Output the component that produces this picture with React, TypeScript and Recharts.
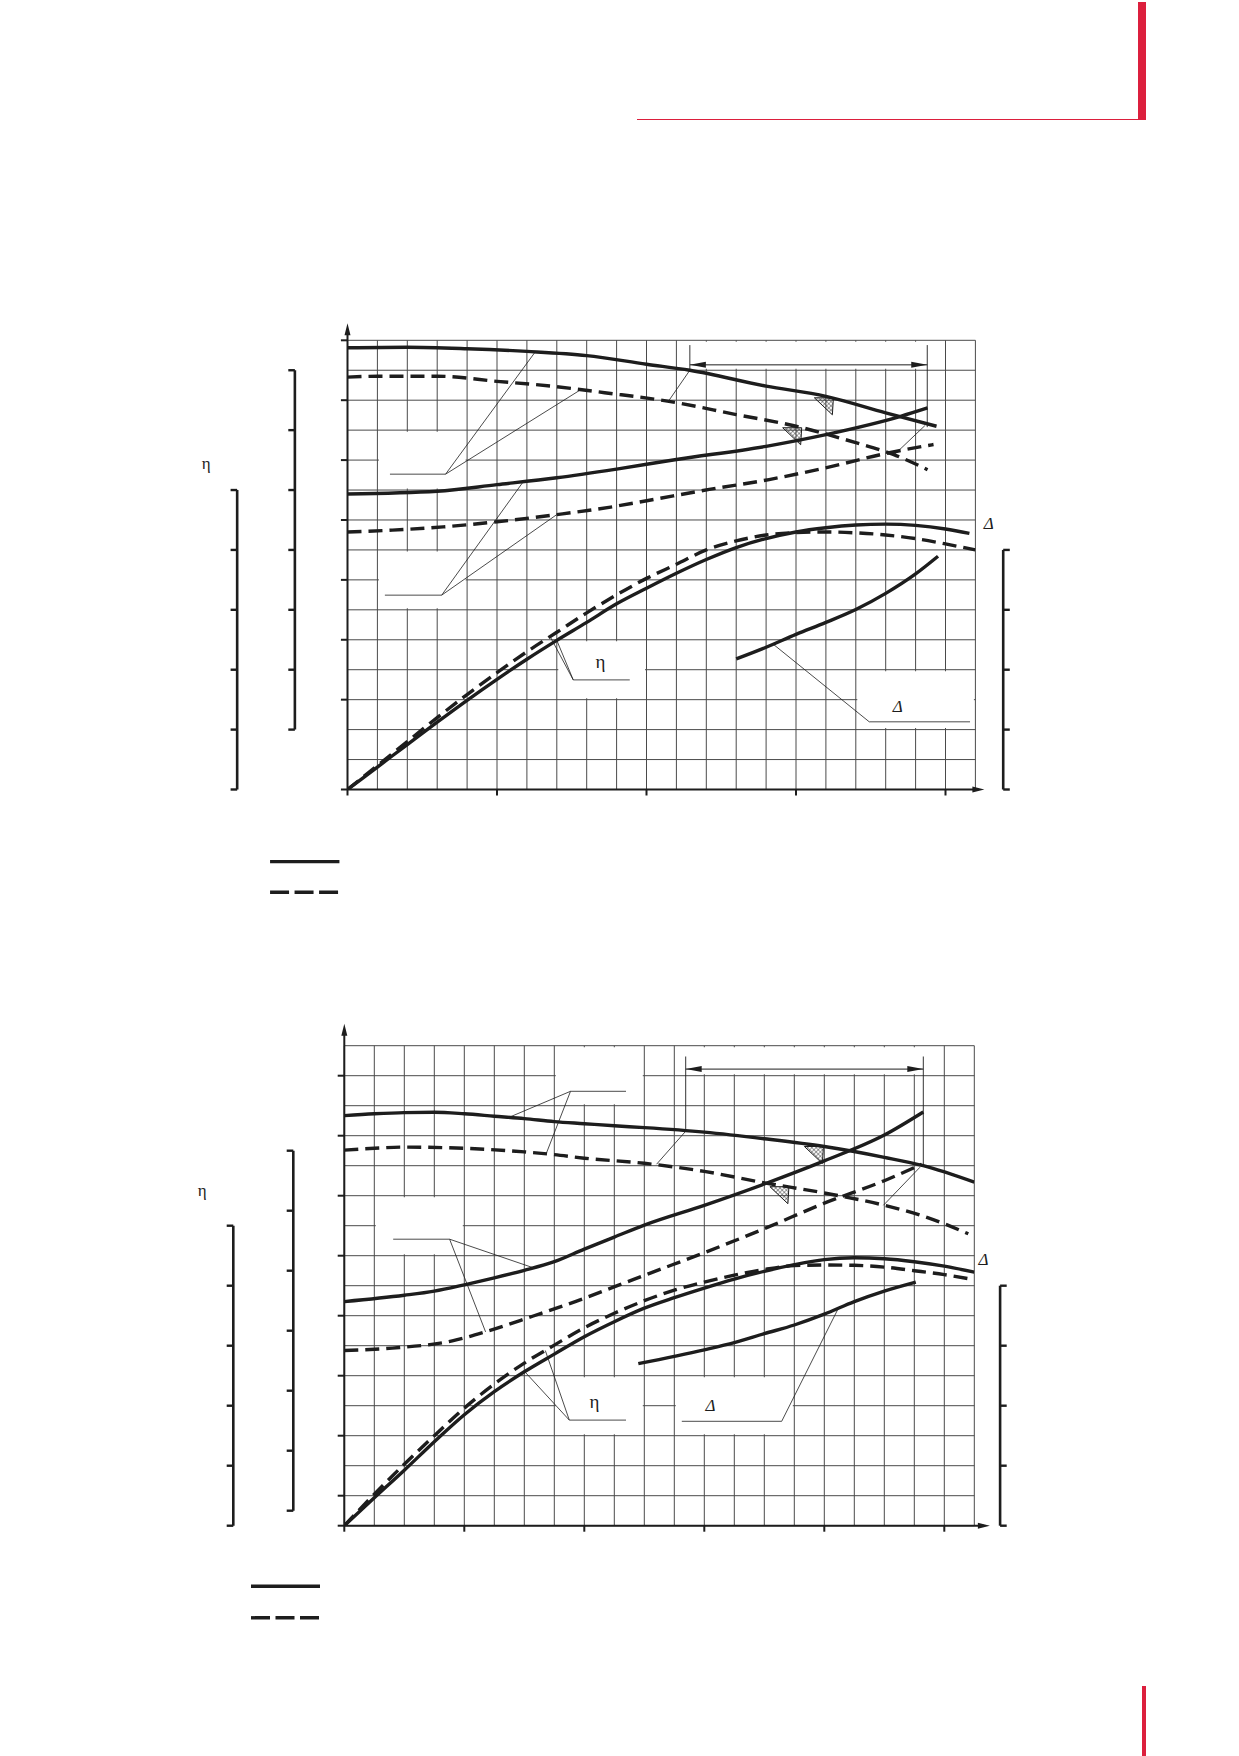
import React from "react";
import {
  ComposedChart,
  Line,
  XAxis,
  YAxis,
  CartesianGrid,
  ReferenceLine,
  ReferenceArea,
  ReferenceDot,
} from "recharts";

const INK = "#1d1d1d";
const GRID = "#4a4a4a";
const RED = "#dc1f3d";
const DASH = "14 7";
const SERIF = "'Liberation Serif', 'DejaVu Serif', serif";

// Upper chart, values read in grid cells (21 columns x 15 rows)
const upHeadX = [0, 2, 4, 6, 8, 10, 11.45, 14, 16, 18, 19.7];
const upHeadSolid = [14.75, 14.77, 14.72, 14.63, 14.49, 14.2, 14.0, 13.47, 13.13, 12.58, 12.13];
const upHeadDashX = [0, 1, 3, 5, 7, 8.6, 10.7, 13, 15, 17, 18.25, 19.4];
const upHeadDash = [13.77, 13.8, 13.8, 13.63, 13.45, 13.25, 12.97, 12.52, 12.13, 11.58, 11.19, 10.68];
const upPowerX = [0, 3, 5, 7, 9, 11, 14, 16, 18.5, 19.4];
const upPowerSolid = [9.87, 9.96, 10.18, 10.41, 10.7, 11.02, 11.46, 11.85, 12.46, 12.74];
const upPowerDashX = [0, 1.5, 3.2, 5, 7, 8.8, 10.1, 12.1, 14.1, 16.2, 18, 19.6];
const upPowerDash = [8.6, 8.66, 8.77, 8.94, 9.18, 9.43, 9.66, 10.02, 10.35, 10.79, 11.22, 11.52];
const upEtaSolidX = [0, 1, 2, 3, 4, 5, 6, 7, 8, 9, 10, 11, 12, 13, 14, 15, 16, 17, 18, 19, 20, 20.8];
const upEtaSolid = [0, 0.75, 1.5, 2.25, 2.98, 3.68, 4.35, 4.98, 5.58, 6.2, 6.72, 7.22, 7.68, 8.08, 8.38, 8.6, 8.74, 8.83, 8.86, 8.82, 8.7, 8.55];
const upEtaDashX = [0, 1, 2, 3, 4, 5, 6, 7, 8, 9, 10, 11, 12, 13, 14, 15, 16, 17, 18, 19, 20, 21];
const upEtaDash = [0, 0.8, 1.6, 2.4, 3.17, 3.9, 4.6, 5.25, 5.9, 6.5, 7.05, 7.52, 8.0, 8.3, 8.5, 8.58, 8.6, 8.57, 8.5, 8.38, 8.2, 8.0];
const upNpshX = [13, 14, 15, 16, 17, 18, 19, 19.75];
const upNpsh = [4.36, 4.75, 5.18, 5.58, 6.01, 6.55, 7.2, 7.79];

const upXTicks = [0, 5, 10, 15, 20];
const upYTicks = [0, 3, 5, 7, 9, 11, 13, 15];
const upScaleN = [2, 4, 6, 8, 10, 12, 14];
const upScaleEta = [0, 2, 4, 6, 8, 10];
const upScaleNpsh = [0, 2, 4, 6, 8];

// Lower chart, values read in grid cells (21 columns x 16 rows)
const loHeadX = [0, 1, 2, 3, 4, 5, 6, 7, 8, 9, 10, 12, 14, 16, 18, 19.3, 21];
const loHeadSolid = [13.67, 13.73, 13.77, 13.78, 13.73, 13.65, 13.57, 13.47, 13.4, 13.33, 13.27, 13.12, 12.9, 12.64, 12.28, 12.0, 11.45];
const loHeadDashX = [0, 1, 2, 4, 6, 7, 8, 10, 12, 14, 16, 18, 19.3, 20.8];
const loHeadDash = [12.52, 12.58, 12.62, 12.58, 12.46, 12.37, 12.25, 12.08, 11.81, 11.43, 11.09, 10.68, 10.32, 9.73];
const loPowerX = [0, 2, 3, 4, 5, 6, 7, 8, 9, 10, 12, 14, 16, 18, 19.3];
const loPowerSolid = [7.47, 7.68, 7.82, 8.03, 8.26, 8.51, 8.8, 9.22, 9.62, 10.02, 10.68, 11.39, 12.16, 13.02, 13.79];
const loPowerDashX = [0, 1.6, 3.6, 4.7, 6.3, 7.7, 9.1, 10.2, 12, 14, 16, 18, 19.25];
const loPowerDash = [5.84, 5.92, 6.16, 6.46, 6.99, 7.47, 8.0, 8.42, 9.1, 9.9, 10.75, 11.5, 12.05];
const loEtaX = [0, 1, 2, 3, 4, 5, 6, 7, 8, 9, 10, 11, 12, 13, 14, 15, 16, 17, 18, 19, 20, 21];
const loEtaSolid = [0, 0.93, 1.85, 2.8, 3.7, 4.47, 5.13, 5.72, 6.3, 6.8, 7.25, 7.6, 7.92, 8.22, 8.48, 8.7, 8.87, 8.93, 8.9, 8.8, 8.65, 8.45];
const loEtaDash = [0, 1.05, 2.05, 3.0, 3.92, 4.72, 5.42, 6.02, 6.6, 7.08, 7.5, 7.85, 8.12, 8.35, 8.54, 8.67, 8.69, 8.68, 8.62, 8.5, 8.37, 8.2];
const loNpshX = [9.8, 12, 13, 14, 15, 16, 17, 18, 19.05];
const loNpsh = [5.4, 5.86, 6.1, 6.4, 6.69, 7.05, 7.47, 7.82, 8.12];

const loXTicks = [0, 4, 8, 12, 16, 20];
const loYTicks = [0, 1, 3, 5, 7, 9, 11, 13, 15];
const loScaleN = [0.5, 2.5, 4.5, 6.5, 8.5, 10.5, 12.5];
const loScaleEta = [0, 2, 4, 6, 8, 10];
const loScaleNpsh = [0, 2, 4, 6, 8];

type Pt = { x: number; y: number };
const zip = (xs: number[], ys: number[]): Pt[] => xs.map((x, i) => ({ x, y: ys[i] }));

interface Curve {
  xs: number[];
  ys: number[];
  dashed?: boolean;
}

interface Label {
  x: number;
  y: number;
  text: string;
  size: number;
  italic?: boolean;
}

interface ChartSpec {
  left: number;
  top: number;
  width: number;
  height: number;
  margin: { top: number; right: number; bottom: number; left: number };
  cols: number;
  rows: number;
  curves: Curve[];
  xTicks: number[];
  yTicks: number[];
  scales: { x: number; ticks: number[]; side: number }[];
  axisTop: number;
  axisRight: number;
  boxes: number[][];
  leaders: number[][];
  range: { y: number; x1: number; x2: number; top: number; b1: number; b2: number };
  marks: Pt[];
  labels: Label[];
  legendX: [number, number];
  legendY: [number, number];
}

const upper: ChartSpec = {
  left: 150,
  top: 280,
  width: 900,
  height: 640,
  margin: { top: 60.3, right: 74.6, bottom: 130.5, left: 197.5 },
  cols: 21,
  rows: 15,
  curves: [
    { xs: upHeadX, ys: upHeadSolid },
    { xs: upHeadDashX, ys: upHeadDash, dashed: true },
    { xs: upPowerX, ys: upPowerSolid },
    { xs: upPowerDashX, ys: upPowerDash, dashed: true },
    { xs: upEtaSolidX, ys: upEtaSolid },
    { xs: upEtaDashX, ys: upEtaDash, dashed: true },
    { xs: upNpshX, ys: upNpsh },
  ],
  xTicks: upXTicks,
  yTicks: upYTicks,
  scales: [
    { x: -1.76, ticks: upScaleN, side: -1 },
    { x: -3.69, ticks: upScaleEta, side: -1 },
    { x: 21.93, ticks: upScaleNpsh, side: 1 },
  ],
  axisTop: 15.57,
  axisRight: 21.3,
  boxes: [
    [1, 4, 10, 12],
    [1, 4, 6, 8],
    [11, 20, 14, 15],
    [7, 10, 3, 5],
    [17, 21, 2, 4],
  ],
  leaders: [
    [1.42, 10.53, 3.28, 10.53],
    [3.28, 10.53, 6.27, 14.6],
    [3.28, 10.53, 7.83, 13.37],
    [1.25, 6.49, 3.15, 6.49],
    [3.15, 6.49, 5.88, 10.28],
    [3.15, 6.49, 7.0, 9.18],
    [6.77, 5.12, 7.55, 3.66],
    [7.0, 4.98, 7.55, 3.66],
    [7.55, 3.66, 9.44, 3.66],
    [14.24, 4.85, 17.45, 2.26],
    [17.45, 2.26, 20.82, 2.26],
    [11.45, 14.0, 10.73, 12.96],
    [19.31, 12.15, 18.31, 11.2],
  ],
  range: { y: 14.18, x1: 11.45, x2: 19.39, top: 14.84, b1: 14.0, b2: 12.1 },
  marks: [
    { x: 16.25, y: 13.08 },
    { x: 15.19, y: 12.08 },
  ],
  labels: [
    { x: -4.73, y: 10.9, text: "η", size: 17 },
    { x: 8.46, y: 4.27, text: "η", size: 19 },
    { x: 21.45, y: 8.89, text: "Δ", size: 17, italic: true },
    { x: 18.4, y: 2.76, text: "Δ", size: 17, italic: true },
  ],
  legendX: [-2.59, -0.27],
  legendY: [-2.41, -3.43],
};

const lower: ChartSpec = {
  left: 150,
  top: 990,
  width: 900,
  height: 660,
  margin: { top: 55.7, right: 75.7, bottom: 124.3, left: 194.3 },
  cols: 21,
  rows: 16,
  curves: [
    { xs: loHeadX, ys: loHeadSolid },
    { xs: loHeadDashX, ys: loHeadDash, dashed: true },
    { xs: loPowerX, ys: loPowerSolid },
    { xs: loPowerDashX, ys: loPowerDash, dashed: true },
    { xs: loEtaX, ys: loEtaSolid },
    { xs: loEtaX, ys: loEtaDash, dashed: true },
    { xs: loNpshX, ys: loNpsh },
  ],
  xTicks: loXTicks,
  yTicks: loYTicks,
  scales: [
    { x: -1.7, ticks: loScaleN, side: -1 },
    { x: -3.7, ticks: loScaleEta, side: -1 },
    { x: 21.86, ticks: loScaleNpsh, side: 1 },
  ],
  axisTop: 16.73,
  axisRight: 21.52,
  boxes: [
    [7, 10, 14, 16],
    [1, 4, 9, 11],
    [7, 10, 3, 5],
    [11, 15, 3, 5],
    [11, 20, 15, 16],
  ],
  leaders: [
    [7.54, 14.48, 9.39, 14.48],
    [7.54, 14.48, 5.51, 13.62],
    [7.54, 14.48, 6.73, 12.4],
    [1.63, 9.55, 3.51, 9.55],
    [3.51, 9.55, 6.29, 8.6],
    [3.51, 9.55, 4.71, 6.46],
    [7.5, 3.52, 9.39, 3.52],
    [7.5, 3.52, 6.0, 5.15],
    [7.5, 3.52, 6.7, 5.84],
    [11.25, 3.48, 14.58, 3.48],
    [14.58, 3.48, 16.47, 7.25],
    [11.38, 13.15, 10.41, 12.05],
    [19.19, 11.95, 17.97, 10.68],
  ],
  range: { y: 15.22, x1: 11.38, x2: 19.3, top: 15.64, b1: 13.15, b2: 12.05 },
  marks: [
    { x: 15.97, y: 12.64 },
    { x: 14.82, y: 11.3 },
  ],
  labels: [
    { x: -4.74, y: 11.19, text: "η", size: 17 },
    { x: 8.34, y: 4.14, text: "η", size: 19 },
    { x: 21.31, y: 8.89, text: "Δ", size: 17, italic: true },
    { x: 12.21, y: 4.02, text: "Δ", size: 17, italic: true },
  ],
  legendX: [-3.11, -0.81],
  legendY: [-2.02, -3.07],
};

// small filled arrow head pointing in direction (dx, dy)
const arrowHead = (dx: number, dy: number, len: number, half: number) => (p: any) => {
  const bx = p.cx - dx * len;
  const by = p.cy - dy * len;
  const px = -dy * half;
  const py = dx * half;
  return (
    <polygon
      points={`${p.cx},${p.cy} ${bx + px},${by + py} ${bx - px},${by - py}`}
      fill={INK}
    />
  );
};

const hatchMark = (p: any) => (
  <g>
    <defs>
      <pattern id="hatch" width="3" height="3" patternUnits="userSpaceOnUse" patternTransform="rotate(45)">
        <path d="M0 0 L0 3 M0 0 L3 0" stroke={INK} strokeWidth="0.8" />
      </pattern>
    </defs>
    <polygon
      points={`${p.cx - 19},${p.cy} ${p.cx},${p.cy} ${p.cx - 1},${p.cy + 17}`}
      fill="url(#hatch)"
      stroke={INK}
      strokeWidth={1}
    />
  </g>
);

const textShape = (l: Label) => (p: any) => (
  <text
    x={p.cx}
    y={p.cy}
    textAnchor="middle"
    dominantBaseline="central"
    fontFamily={SERIF}
    fontSize={l.size}
    fontStyle={l.italic ? "italic" : "normal"}
    fill={INK}
  >
    {l.text}
  </text>
);

function PumpChart({ s }: { s: ChartSpec }) {
  const m = s.margin;
  const pw = s.width - m.left - m.right;
  const ph = s.height - m.top - m.bottom;
  const vx = Array.from({ length: s.cols + 1 }, (_, i) => m.left + (pw * i) / s.cols);
  const hy = Array.from({ length: s.rows + 1 }, (_, i) => m.top + (ph * i) / s.rows);
  const inset = 0.05;

  const seg = (key: string, x1: number, y1: number, x2: number, y2: number, w: number, dash?: string) => (
    <ReferenceLine
      key={key}
      segment={[
        { x: x1, y: y1 },
        { x: x2, y: y2 },
      ]}
      stroke={INK}
      strokeWidth={w}
      strokeDasharray={dash}
      ifOverflow="visible"
    />
  );

  const r = s.range;

  return (
    <div style={{ position: "absolute", left: s.left, top: s.top }}>
      <ComposedChart width={s.width} height={s.height} margin={m}>
        <XAxis type="number" dataKey="x" domain={[0, s.cols]} hide allowDataOverflow />
        <YAxis type="number" domain={[0, s.rows]} hide allowDataOverflow />
        <CartesianGrid stroke={GRID} strokeWidth={1} verticalPoints={vx} horizontalPoints={hy} />

        {s.boxes.map((b, i) => (
          <ReferenceArea
            key={`box${i}`}
            x1={b[0] + inset}
            x2={b[1] - inset}
            y1={b[2] + inset}
            y2={b[3] - inset}
            fill="#ffffff"
            fillOpacity={1}
            stroke="none"
            ifOverflow="visible"
          />
        ))}

        {s.leaders.map((l, i) => seg(`ld${i}`, l[0], l[1], l[2], l[3], 0.8))}

        {/* operating range */}
        {seg("rg", r.x1, r.y, r.x2, r.y, 1)}
        {seg("rg1", r.x1, r.top, r.x1, r.b1, 0.9)}
        {seg("rg2", r.x2, r.top, r.x2, r.b2, 0.9)}
        <ReferenceDot x={r.x1} y={r.y} r={0} ifOverflow="visible" shape={arrowHead(-1, 0, 16, 3)} />
        <ReferenceDot x={r.x2} y={r.y} r={0} ifOverflow="visible" shape={arrowHead(1, 0, 16, 3)} />

        {s.curves.map((c, i) => (
          <Line
            key={`c${i}`}
            data={zip(c.xs, c.ys)}
            dataKey="y"
            type="monotone"
            stroke={INK}
            strokeWidth={3.4}
            strokeDasharray={c.dashed ? DASH : undefined}
            dot={false}
            activeDot={false}
            isAnimationActive={false}
          />
        ))}

        {s.marks.map((p, i) => (
          <ReferenceDot key={`mk${i}`} x={p.x} y={p.y} r={0} ifOverflow="visible" shape={hatchMark} />
        ))}

        {/* main axes with arrows */}
        {seg("ax", 0, 0, s.axisRight - 0.2, 0, 2)}
        {seg("ay", 0, 0, 0, s.axisTop - 0.2, 2)}
        <ReferenceDot x={s.axisRight} y={0} r={0} ifOverflow="visible" shape={arrowHead(1, 0, 12, 3)} />
        <ReferenceDot x={0} y={s.axisTop} r={0} ifOverflow="visible" shape={arrowHead(0, -1, 12, 3)} />
        {s.xTicks.map((t) => seg(`xt${t}`, t, 0, t, -0.2, 2))}
        {s.yTicks.map((t) => seg(`yt${t}`, 0, t, -0.22, t, 2))}

        {/* side scales */}
        {s.scales.map((sc, i) =>
          seg(`sc${i}`, sc.x, sc.ticks[0], sc.x, sc.ticks[sc.ticks.length - 1], 2.6)
        )}
        {s.scales.flatMap((sc, i) =>
          sc.ticks.map((t) => seg(`sc${i}t${t}`, sc.x, t, sc.x + sc.side * 0.22, t, 2.4))
        )}

        {s.labels.map((l, i) => (
          <ReferenceDot key={`tx${i}`} x={l.x} y={l.y} r={0} ifOverflow="visible" shape={textShape(l)} />
        ))}

        {/* legend samples */}
        {seg("lg1", s.legendX[0], s.legendY[0], s.legendX[1], s.legendY[0], 3.4)}
        {seg("lg2", s.legendX[0], s.legendY[1], s.legendX[1], s.legendY[1], 3.4, "19 5.5")}
      </ComposedChart>
    </div>
  );
}

export default function App() {
  return (
    <div
      style={{
        position: "absolute",
        left: 0,
        top: 0,
        width: 1239,
        height: 1756,
        background: "#ffffff",
        overflow: "hidden",
      }}
    >
      <div style={{ position: "absolute", left: 1138, top: 2, width: 8, height: 118, background: RED }} />
      <div style={{ position: "absolute", left: 637, top: 119, width: 501, height: 1.3, background: RED }} />
      <div style={{ position: "absolute", left: 1141.5, top: 1686, width: 4.5, height: 70, background: RED }} />
      <PumpChart s={upper} />
      <PumpChart s={lower} />
    </div>
  );
}
